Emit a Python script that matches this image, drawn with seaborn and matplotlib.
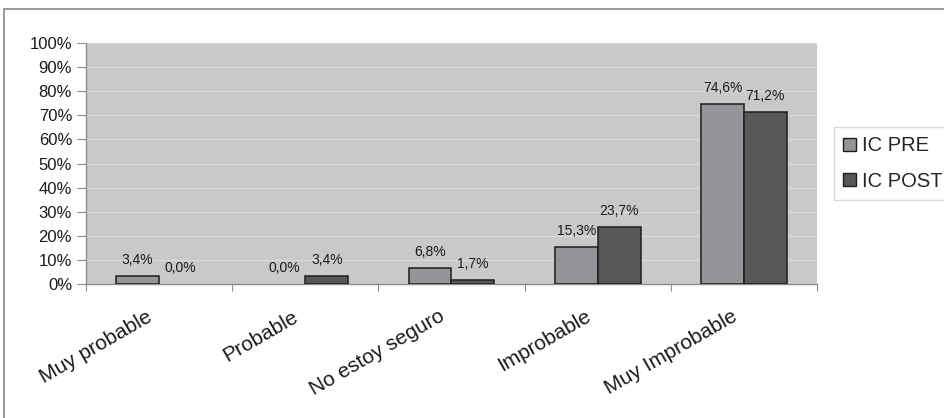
import matplotlib
matplotlib.use("Agg")
import matplotlib.pyplot as plt
import matplotlib.transforms as mtransforms
from matplotlib.patches import Rectangle
from matplotlib.ticker import FixedLocator, FuncFormatter
import seaborn as sns
import pandas as pd

categorias = ["Muy probable", "Probable", "No estoy seguro", "Improbable", "Muy Improbable"]
series = ["IC PRE", "IC POST"]
ic_pre = [3.4, 0.0, 6.8, 15.3, 74.6]
ic_post = [0.0, 3.4, 1.7, 23.7, 71.2]
y_ticks = [0, 10, 20, 30, 40, 50, 60, 70, 80, 90, 100]

colores = {"IC PRE": "#949598", "IC POST": "#58585a"}

df = pd.DataFrame({
    "categoria": categorias * 2,
    "serie": [series[0]] * len(categorias) + [series[1]] * len(categorias),
    "valor": ic_pre + ic_post,
})

sns.set_style("white")
plt.rcParams["font.family"] = ["Liberation Sans", "DejaVu Sans"]

W, H = 945, 418
fig = plt.figure(figsize=(W / 100, H / 100), dpi=100)
ax = fig.add_axes([86 / W, 1 - 284 / H, (817 - 86) / W, (284 - 43) / H])
ax.set_facecolor("#c9c9cb")

sns.barplot(data=df, x="categoria", y="valor", hue="serie",
            order=categorias, hue_order=series, palette=colores,
            width=0.587, gap=0, edgecolor="#1e1e1e", linewidth=1.1,
            saturation=1, legend=False, ax=ax, zorder=3)

ax.set_xlim(-0.5, len(categorias) - 0.5)
ax.set_ylim(0, 100)
ax.set_xlabel("")
ax.set_ylabel("")

# horizontal gridlines
ax.yaxis.set_major_locator(FixedLocator(y_ticks))
ax.yaxis.set_major_formatter(FuncFormatter(lambda v, p: f"{int(v)}%"))
ax.grid(axis="y", color="#d9d9d9", linewidth=1.0, zorder=0)
ax.grid(axis="x", visible=False)
ax.set_axisbelow(True)

for s in ["top", "right"]:
    ax.spines[s].set_visible(False)
for s in ["left", "bottom"]:
    ax.spines[s].set_color("#8c8c8c")
    ax.spines[s].set_linewidth(1.0)

ax.tick_params(axis="y", which="major", left=True, length=6.5, width=0.8,
               color="#8c8c8c", pad=3.5, labelsize=12, labelcolor="#1a1a1a")

# category tick marks at the boundaries, labels at the centres
ax.set_xticks(range(len(categorias)))
ax.set_xticklabels(categorias)
ax.set_xticks([i - 0.5 for i in range(len(categorias) + 1)], minor=True)
ax.tick_params(axis="x", which="minor", bottom=True, length=5, width=0.8, color="#8c8c8c")
ax.tick_params(axis="x", which="major", bottom=True, length=0, pad=16.5, labelsize=15,
               labelcolor="#1a1a1a")
shift = mtransforms.ScaledTranslation(-13 / 100, 0, fig.dpi_scale_trans)
for lbl in ax.get_xticklabels():
    lbl.set_rotation(30)
    lbl.set_ha("right")
    lbl.set_va("top")
    lbl.set_rotation_mode("anchor")
    lbl.set_transform(lbl.get_transform() + shift)

# value labels above each bar; empty bars get no outline
for cont, vals in zip(ax.containers, [ic_pre, ic_post]):
    for bar, v in zip(cont, vals):
        if v == 0:
            bar.set_linewidth(0)
        ax.annotate(f"{v:.1f}%".replace(".", ","),
                    xy=(bar.get_x() + bar.get_width() / 2, bar.get_height()),
                    xytext=(0, 8.6), textcoords="offset points",
                    ha="center", va="baseline", fontsize=10, color="#1a1a1a",
                    zorder=5)

# legend
handles = [Rectangle((0, 0), 1, 1, facecolor=colores[s], edgecolor="#1e1e1e", linewidth=1.0)
           for s in series]
leg = fig.legend(handles, series, loc="upper left",
                 bbox_to_anchor=(834 / W, 1 - 127 / H), bbox_transform=fig.transFigure,
                 fontsize=14.5, frameon=True, fancybox=False, edgecolor="#d0d0d0",
                 handlelength=0.64, handleheight=0.64, handletextpad=0.28,
                 labelspacing=0.8, borderpad=0.47, borderaxespad=0)
leg.get_frame().set_linewidth(1.0)

# outer chart frame (top and left edges visible)
fig.add_artist(Rectangle((4 / W, -0.1), 1.2, 1.1 - 9 / H, transform=fig.transFigure,
                         fill=False, edgecolor="#8a8a8a", linewidth=1.2))

fig.savefig("out.png", dpi=100, facecolor="white")
